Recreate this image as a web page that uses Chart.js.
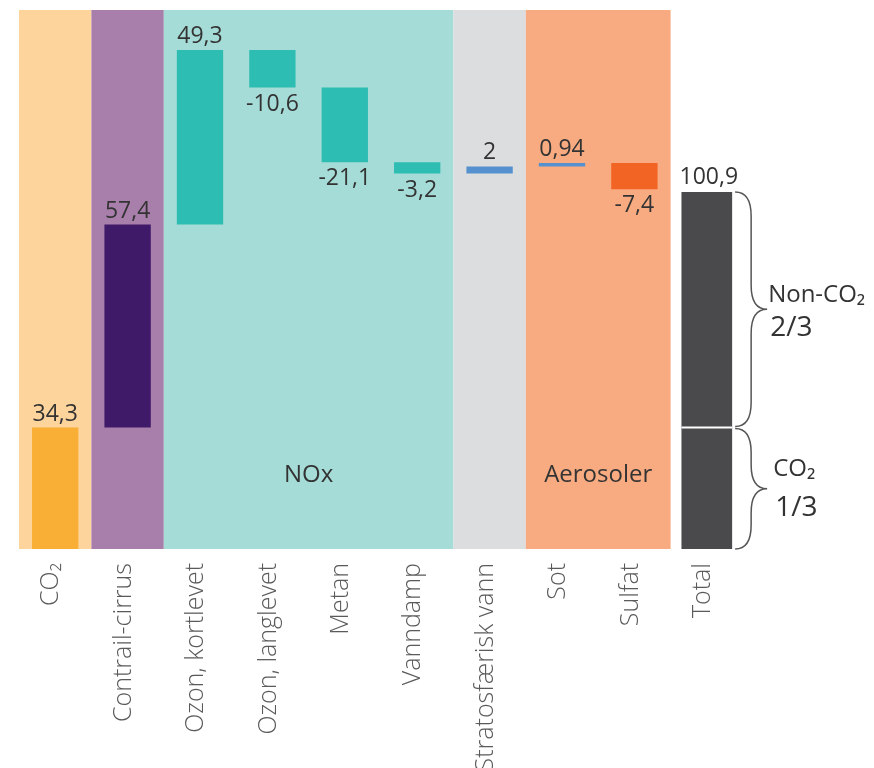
<!DOCTYPE html>
<html lang="no">
<head>
<meta charset="utf-8">
<title>Klimaeffekt fra luftfart</title>
<script src="https://cdn.jsdelivr.net/npm/chart.js@4"></script>
<style>
  html, body { margin: 0; padding: 0; background: #ffffff; }
  #wrap { width: 874px; height: 768px; }
</style>
</head>
<body>
<div id="wrap"><canvas id="chart" width="874" height="768"></canvas></div>
<script>
// Categories along the x axis
const categories = ['CO₂', 'Contrail-cirrus', 'Ozon, kortlevet', 'Ozon, langlevet', 'Metan',
  'Vanndamp', 'Stratosfærisk vann', 'Sot', 'Sulfat', 'Total'];

// Contribution of each component (waterfall steps)
const contributions = [34.3, 57.4, 49.3, -10.6, -21.1, -3.2, 2, 0.94, -7.4];
// Resulting total and the CO2 share inside it
const totalValue = 100.9;
const co2Share = 34.3;

// Bar colours per component
const barColors = ['#F9AE35', '#3E1A68', '#2EBDB2', '#2EBDB2', '#2EBDB2', '#2EBDB2',
  '#5591CF', '#5591CF', '#F26423'];
const totalColor = '#4A4A4C';

// Background groups: first and last category index, colour, caption
const groupFrom = [0, 1, 2, 6, 7];
const groupTo = [0, 1, 5, 6, 8];
const groupColors = ['#FDD49B', '#A87EAB', '#A5DCD7', '#DCDDDF', '#F8AB80'];
const groupCaptions = ['', '', 'NOx', '', 'Aerosoler'];
const groupCaptionLevel = 21;

// Brace captions on the right
const braceUpper = ['Non-CO₂', '2/3'];
const braceLower = ['CO₂', '1/3'];

const yMax = 152.3;
const FONT = '"Open Sans", Lato, "Noto Sans", sans-serif';

// Floating bars built from the running sum of the contributions
const steps = [];
let running = 0;
contributions.forEach(v => {
  steps.push([running, running + v]);
  running += v;
});
steps.push(null);
const totalBar = categories.map((c, i) => i === categories.length - 1 ? [0, totalValue] : null);

const fmt = v => String(v).replace('.', ',');

// Coloured background bands behind each group of categories
const bandPlugin = {
  id: 'bands',
  beforeDatasetsDraw(chart) {
    const { ctx, scales: { x, y } } = chart;
    const half = (x.getPixelForValue(1) - x.getPixelForValue(0)) / 2;
    const top = y.getPixelForValue(yMax);
    const bottom = y.getPixelForValue(0);
    ctx.save();
    groupFrom.forEach((from, g) => {
      const left = x.getPixelForValue(from) - half;
      const right = x.getPixelForValue(groupTo[g]) + half;
      ctx.fillStyle = groupColors[g];
      ctx.fillRect(left, top, right - left, bottom - top);
      if (groupCaptions[g]) {
        ctx.fillStyle = '#333333';
        ctx.font = '24px ' + FONT;
        ctx.textAlign = 'center';
        ctx.textBaseline = 'middle';
        ctx.fillText(groupCaptions[g], (left + right) / 2, y.getPixelForValue(groupCaptionLevel));
      }
    });
    ctx.restore();
  }
};

// Value labels, the CO2 split in the total bar and the braces
const annotatePlugin = {
  id: 'annotate',
  afterDatasetsDraw(chart) {
    const { ctx, scales: { y } } = chart;
    ctx.save();
    ctx.font = '23px ' + FONT;
    ctx.fillStyle = '#333333';
    ctx.textAlign = 'center';

    const stepMeta = chart.getDatasetMeta(0);
    contributions.forEach((v, i) => {
      const bar = stepMeta.data[i];
      const end = steps[i][1];
      if (v >= 0) {
        ctx.textBaseline = 'bottom';
        ctx.fillText(fmt(v), bar.x, y.getPixelForValue(end) - 2);
      } else {
        ctx.textBaseline = 'top';
        ctx.fillText(fmt(v), bar.x, y.getPixelForValue(end) + 5);
      }
    });

    const tMeta = chart.getDatasetMeta(1);
    const tBar = tMeta.data[categories.length - 1];
    ctx.textBaseline = 'bottom';
    ctx.fillText(fmt(totalValue), tBar.x + 2, y.getPixelForValue(totalValue) - 3);

    // white split line at the CO2 share
    const tLeft = tBar.x - tBar.width / 2;
    const tRight = tBar.x + tBar.width / 2;
    const ySplit = y.getPixelForValue(co2Share);
    ctx.strokeStyle = '#ffffff';
    ctx.lineWidth = 2;
    ctx.beginPath();
    ctx.moveTo(tLeft, ySplit);
    ctx.lineTo(tRight, ySplit);
    ctx.stroke();

    // braces
    const x0 = tRight + 3;
    const brace = (y1, y2) => {
      const d = 16, r = 24;
      const ym = (y1 + y2) / 2;
      ctx.beginPath();
      ctx.moveTo(x0, y1);
      ctx.quadraticCurveTo(x0 + d, y1, x0 + d, y1 + r);
      ctx.lineTo(x0 + d, ym - r);
      ctx.quadraticCurveTo(x0 + d, ym, x0 + 2 * d, ym);
      ctx.quadraticCurveTo(x0 + d, ym, x0 + d, ym + r);
      ctx.lineTo(x0 + d, y2 - r);
      ctx.quadraticCurveTo(x0 + d, y2, x0, y2);
      ctx.stroke();
      return ym;
    };
    ctx.strokeStyle = '#555555';
    ctx.lineWidth = 1.5;
    const yTop = y.getPixelForValue(totalValue);
    const yBase = y.getPixelForValue(0);
    const mUpper = brace(yTop, ySplit - 1);
    const mLower = brace(ySplit + 1, yBase);

    ctx.fillStyle = '#333333';
    ctx.textAlign = 'left';
    ctx.textBaseline = 'middle';
    ctx.font = '24px ' + FONT;
    ctx.fillText(braceUpper[0], x0 + 33, mUpper - 14);
    ctx.fillText(braceLower[0], x0 + 38, mLower - 20);
    ctx.font = '28px ' + FONT;
    ctx.fillText(braceUpper[1], x0 + 35, mUpper + 19);
    ctx.fillText(braceLower[1], x0 + 40, mLower + 19);
    ctx.restore();
  }
};

new Chart(document.getElementById('chart'), {
  type: 'bar',
  data: {
    labels: categories,
    datasets: [
      {
        label: 'Bidrag',
        data: steps,
        backgroundColor: barColors,
        barPercentage: 0.64,
        categoryPercentage: 1,
        grouped: false
      },
      {
        label: 'Total',
        data: totalBar,
        backgroundColor: totalColor,
        barPercentage: 0.7,
        categoryPercentage: 1,
        grouped: false
      }
    ]
  },
  options: {
    responsive: false,
    animation: false,
    layout: { padding: { left: 19, right: 131, top: 10, bottom: 0 } },
    plugins: {
      legend: { display: false },
      tooltip: { enabled: false }
    },
    scales: {
      x: {
        grid: { display: false, drawTicks: false },
        border: { display: false },
        ticks: {
          autoSkip: false,
          minRotation: 90,
          maxRotation: 90,
          padding: 14,
          labelOffset: -4,
          color: '#5a5a5a',
          font: { family: FONT, size: 25, weight: '300' }
        },
        afterFit(scale) { scale.height = 219; }
      },
      y: {
        display: false,
        min: 0,
        max: yMax
      }
    }
  },
  plugins: [bandPlugin, annotatePlugin]
});
</script>
</body>
</html>
